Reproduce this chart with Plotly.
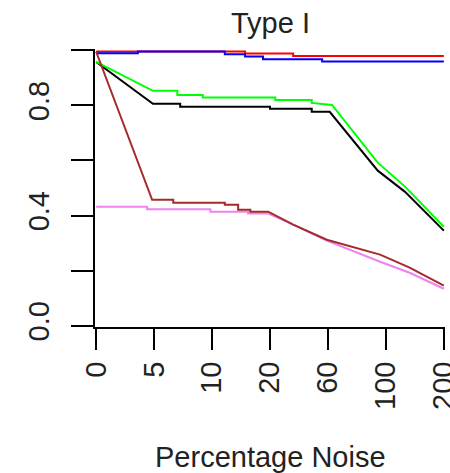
import plotly.graph_objects as go

# Category tick labels (x positions are category indices 0..6)
x_labels = ["0", "5", "10", "20", "60", "100", "200"]
y_tickvals = [0.0, 0.2, 0.4, 0.6, 0.8, 1.0]
y_ticktext = ["0.0", "", "0.4", "", "0.8", ""]

red_x = [0, 2.57, 2.57, 3.40, 3.40, 6]
red_y = [0.996, 0.996, 0.989, 0.989, 0.980, 0.980]

blue_x = [0, 0.72, 0.72, 2.22, 2.22, 2.57, 2.57, 2.88, 2.88, 3.90, 3.90, 6]
blue_y = [0.990, 0.990, 0.996, 0.996, 0.986, 0.986, 0.978, 0.978, 0.968, 0.968, 0.960, 0.960]

black_x = [0, 0.98, 1.45, 1.45, 3.0, 3.0, 3.72, 3.72, 4.03, 4.86, 5.33, 6]
black_y = [0.958, 0.806, 0.806, 0.795, 0.795, 0.788, 0.788, 0.777, 0.777, 0.563, 0.486, 0.345]

green_x = [0, 0.98, 1.40, 1.40, 1.84, 1.84, 3.09, 3.09, 3.72, 3.72, 4.07, 4.86, 5.33, 6]
green_y = [0.958, 0.853, 0.853, 0.838, 0.838, 0.829, 0.829, 0.820, 0.820, 0.809, 0.802, 0.592, 0.505, 0.359]

violet_x = [0, 0.88, 0.88, 1.97, 1.97, 2.62, 2.62, 2.97, 3.40, 3.98, 4.90, 5.41, 6]
violet_y = [0.432, 0.432, 0.423, 0.423, 0.414, 0.414, 0.407, 0.407, 0.367, 0.309, 0.232, 0.192, 0.134]

brown_x = [0, 0.966, 1.33, 1.33, 2.22, 2.22, 2.45, 2.45, 2.66, 2.66, 2.97, 3.40, 3.98, 4.90, 5.41, 6]
brown_y = [0.995, 0.457, 0.457, 0.446, 0.446, 0.439, 0.439, 0.421, 0.421, 0.414, 0.414, 0.367, 0.312, 0.258, 0.211, 0.145]

series = [
    (red_x, red_y, "#ff0000"),
    (blue_x, blue_y, "#0000ff"),
    (black_x, black_y, "#000000"),
    (green_x, green_y, "#00ff00"),
    (violet_x, violet_y, "#ee82ee"),
    (brown_x, brown_y, "#a52a2a"),
]

FONT = "Liberation Sans, Arial, sans-serif"
TXT = "#222222"

fig = go.Figure()
for xs, ys, col in series:
    fig.add_trace(go.Scatter(x=xs, y=ys, mode="lines",
                             line=dict(color=col, width=2), showlegend=False,
                             hoverinfo="skip"))

fig.update_layout(
    width=450, height=473,
    margin=dict(l=95, r=5, t=49, b=146, autoexpand=False),
    paper_bgcolor="white", plot_bgcolor="white",
    font=dict(family=FONT, size=29, color=TXT),
    xaxis=dict(range=[-0.02, 6.02], tickmode="array",
               tickvals=list(range(len(x_labels))), ticktext=x_labels,
               tickangle=-90, ticks="outside", ticklen=21, tickwidth=2,
               tickcolor="black", showline=True, linecolor="black", linewidth=2,
               showgrid=False, zeroline=False, ticklabeloverflow="allow",
               automargin=False,
               tickfont=dict(family=FONT, size=29, color=TXT)),
    yaxis=dict(range=[-0.005, 1.005], tickmode="array",
               tickvals=y_tickvals, ticktext=y_ticktext,
               tickangle=-90, ticks="outside", ticklen=22, tickwidth=2,
               tickcolor="black", showline=True, linecolor="black", linewidth=2,
               showgrid=False, zeroline=False, ticklabelstandoff=10,
               automargin=False,
               tickfont=dict(family=FONT, size=29, color=TXT)),
    annotations=[
        dict(text="Type I", xref="paper", yref="paper", x=0.5,
             y=1 + (49 - 23) / 278.0, xanchor="center", yanchor="middle",
             showarrow=False, font=dict(family=FONT, size=29, color=TXT)),
        dict(text="Percentage Noise", xref="paper", yref="paper", x=0.5,
             y=-(457 - 327) / 278.0, xanchor="center", yanchor="middle",
             showarrow=False, font=dict(family=FONT, size=29, color=TXT)),
    ],
)

fig.write_html("out.html")
